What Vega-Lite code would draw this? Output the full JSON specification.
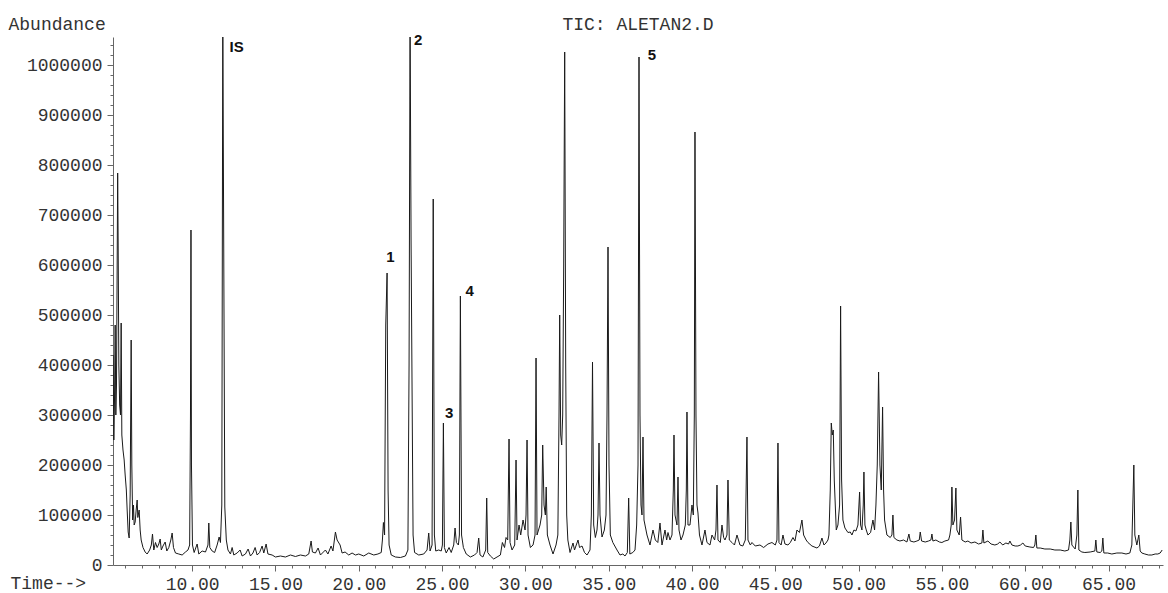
{
  "$schema": "https://vega.github.io/schema/vega-lite/v6.json",
  "width": 1050,
  "height": 528,
  "autosize": {"type": "none"},
  "padding": {"left": 113, "top": 37, "right": 5, "bottom": 28},
  "background": "white",
  "config": {"view": {"stroke": null}, "font": "Liberation Mono"},
  "title": {"text": "TIC: ALETAN2.D", "anchor": "middle", "baseline": "alphabetic", "offset": 7, "dy": 40, "font": "Liberation Mono", "fontSize": 18, "fontWeight": "normal", "color": "#333"},
  "datasets": {
    "trace": [
      {"t":5.26,"a":420000},{"t":5.30,"a":250000},{"t":5.34,"a":330000},{"t":5.38,"a":480000},{"t":5.42,"a":300000},{"t":5.46,"a":360000},{"t":5.50,"a":600000},{"t":5.53,"a":784000},{"t":5.56,"a":640000},{"t":5.60,"a":400000},{"t":5.65,"a":320000},{"t":5.70,"a":300000},{"t":5.74,"a":484000},{"t":5.78,"a":260000},{"t":5.85,"a":230000},{"t":5.92,"a":210000},{"t":5.98,"a":180000},{"t":6.05,"a":150000},{"t":6.10,"a":110000},{"t":6.16,"a":66000},{"t":6.22,"a":54000},{"t":6.28,"a":140000},{"t":6.34,"a":450000},{"t":6.38,"a":200000},{"t":6.43,"a":90000},{"t":6.48,"a":120000},{"t":6.52,"a":80000},{"t":6.58,"a":86000},{"t":6.64,"a":110000},{"t":6.70,"a":130000},{"t":6.74,"a":95000},{"t":6.82,"a":110000},{"t":6.88,"a":70000},{"t":6.94,"a":50000},{"t":7.05,"a":35000},{"t":7.18,"a":26000},{"t":7.30,"a":22000},{"t":7.45,"a":30000},{"t":7.55,"a":40000},{"t":7.62,"a":62000},{"t":7.70,"a":30000},{"t":7.80,"a":45000},{"t":7.90,"a":35000},{"t":8.00,"a":42000},{"t":8.08,"a":52000},{"t":8.15,"a":30000},{"t":8.25,"a":38000},{"t":8.38,"a":46000},{"t":8.48,"a":28000},{"t":8.60,"a":35000},{"t":8.72,"a":50000},{"t":8.80,"a":64000},{"t":8.88,"a":35000},{"t":9.00,"a":24000},{"t":9.20,"a":22000},{"t":9.40,"a":20000},{"t":9.60,"a":26000},{"t":9.75,"a":30000},{"t":9.85,"a":40000},{"t":9.90,"a":300000},{"t":9.93,"a":670000},{"t":9.96,"a":200000},{"t":10.02,"a":40000},{"t":10.12,"a":25000},{"t":10.30,"a":42000},{"t":10.40,"a":22000},{"t":10.60,"a":28000},{"t":10.80,"a":26000},{"t":10.95,"a":40000},{"t":11.00,"a":84000},{"t":11.06,"a":35000},{"t":11.20,"a":28000},{"t":11.35,"a":25000},{"t":11.50,"a":40000},{"t":11.62,"a":56000},{"t":11.70,"a":45000},{"t":11.78,"a":120000},{"t":11.84,"a":1100000},{"t":11.90,"a":600000},{"t":11.96,"a":116000},{"t":12.05,"a":50000},{"t":12.15,"a":30000},{"t":12.30,"a":22000},{"t":12.40,"a":35000},{"t":12.50,"a":20000},{"t":12.70,"a":24000},{"t":12.88,"a":30000},{"t":13.00,"a":18000},{"t":13.20,"a":22000},{"t":13.36,"a":32000},{"t":13.50,"a":18000},{"t":13.65,"a":24000},{"t":13.78,"a":35000},{"t":13.90,"a":20000},{"t":14.05,"a":25000},{"t":14.20,"a":38000},{"t":14.30,"a":24000},{"t":14.44,"a":42000},{"t":14.55,"a":22000},{"t":14.80,"a":20000},{"t":15.00,"a":16000},{"t":15.30,"a":18000},{"t":15.60,"a":16000},{"t":15.90,"a":20000},{"t":16.20,"a":17000},{"t":16.50,"a":20000},{"t":16.80,"a":18000},{"t":17.00,"a":22000},{"t":17.14,"a":48000},{"t":17.22,"a":26000},{"t":17.40,"a":24000},{"t":17.56,"a":34000},{"t":17.70,"a":20000},{"t":18.00,"a":30000},{"t":18.15,"a":22000},{"t":18.34,"a":38000},{"t":18.45,"a":28000},{"t":18.60,"a":66000},{"t":18.70,"a":50000},{"t":18.88,"a":40000},{"t":19.00,"a":24000},{"t":19.18,"a":26000},{"t":19.40,"a":20000},{"t":19.60,"a":24000},{"t":19.80,"a":20000},{"t":20.00,"a":22000},{"t":20.30,"a":18000},{"t":20.60,"a":24000},{"t":20.90,"a":20000},{"t":21.15,"a":22000},{"t":21.35,"a":25000},{"t":21.42,"a":50000},{"t":21.48,"a":85000},{"t":21.55,"a":60000},{"t":21.62,"a":480000},{"t":21.70,"a":584000},{"t":21.76,"a":150000},{"t":21.82,"a":40000},{"t":21.95,"a":20000},{"t":22.20,"a":16000},{"t":22.50,"a":15000},{"t":22.80,"a":18000},{"t":22.95,"a":30000},{"t":23.02,"a":400000},{"t":23.08,"a":1100000},{"t":23.14,"a":650000},{"t":23.20,"a":350000},{"t":23.26,"a":60000},{"t":23.35,"a":25000},{"t":23.60,"a":20000},{"t":23.90,"a":22000},{"t":24.10,"a":30000},{"t":24.20,"a":64000},{"t":24.28,"a":28000},{"t":24.40,"a":40000},{"t":24.47,"a":732000},{"t":24.54,"a":60000},{"t":24.62,"a":28000},{"t":24.80,"a":30000},{"t":24.95,"a":28000},{"t":25.02,"a":40000},{"t":25.08,"a":284000},{"t":25.14,"a":35000},{"t":25.25,"a":24000},{"t":25.42,"a":35000},{"t":25.55,"a":25000},{"t":25.70,"a":40000},{"t":25.78,"a":74000},{"t":25.86,"a":45000},{"t":25.98,"a":40000},{"t":26.04,"a":60000},{"t":26.10,"a":538000},{"t":26.17,"a":60000},{"t":26.28,"a":35000},{"t":26.45,"a":22000},{"t":26.70,"a":16000},{"t":26.95,"a":20000},{"t":27.10,"a":25000},{"t":27.20,"a":54000},{"t":27.28,"a":20000},{"t":27.45,"a":16000},{"t":27.62,"a":30000},{"t":27.68,"a":134000},{"t":27.74,"a":25000},{"t":27.90,"a":18000},{"t":28.10,"a":12000},{"t":28.30,"a":16000},{"t":28.50,"a":20000},{"t":28.62,"a":45000},{"t":28.75,"a":35000},{"t":28.84,"a":55000},{"t":28.94,"a":50000},{"t":29.02,"a":252000},{"t":29.08,"a":45000},{"t":29.20,"a":30000},{"t":29.36,"a":40000},{"t":29.44,"a":210000},{"t":29.50,"a":50000},{"t":29.62,"a":80000},{"t":29.72,"a":60000},{"t":29.86,"a":90000},{"t":29.98,"a":70000},{"t":30.04,"a":100000},{"t":30.10,"a":250000},{"t":30.16,"a":60000},{"t":30.30,"a":35000},{"t":30.46,"a":40000},{"t":30.58,"a":60000},{"t":30.64,"a":414000},{"t":30.70,"a":60000},{"t":30.88,"a":80000},{"t":30.98,"a":100000},{"t":31.04,"a":240000},{"t":31.12,"a":120000},{"t":31.20,"a":100000},{"t":31.25,"a":156000},{"t":31.32,"a":60000},{"t":31.48,"a":40000},{"t":31.66,"a":22000},{"t":31.84,"a":40000},{"t":31.95,"a":60000},{"t":32.02,"a":300000},{"t":32.06,"a":500000},{"t":32.12,"a":260000},{"t":32.18,"a":240000},{"t":32.24,"a":300000},{"t":32.30,"a":600000},{"t":32.36,"a":1026000},{"t":32.42,"a":400000},{"t":32.48,"a":100000},{"t":32.55,"a":50000},{"t":32.68,"a":25000},{"t":32.86,"a":44000},{"t":32.95,"a":30000},{"t":33.16,"a":50000},{"t":33.25,"a":35000},{"t":33.40,"a":38000},{"t":33.55,"a":25000},{"t":33.70,"a":20000},{"t":33.88,"a":30000},{"t":33.96,"a":100000},{"t":34.03,"a":406000},{"t":34.10,"a":80000},{"t":34.20,"a":55000},{"t":34.30,"a":70000},{"t":34.36,"a":100000},{"t":34.42,"a":244000},{"t":34.48,"a":100000},{"t":34.60,"a":56000},{"t":34.74,"a":70000},{"t":34.84,"a":100000},{"t":34.90,"a":300000},{"t":34.96,"a":636000},{"t":35.02,"a":200000},{"t":35.10,"a":60000},{"t":35.25,"a":45000},{"t":35.50,"a":30000},{"t":35.68,"a":20000},{"t":35.85,"a":22000},{"t":35.98,"a":18000},{"t":36.12,"a":25000},{"t":36.20,"a":134000},{"t":36.27,"a":22000},{"t":36.45,"a":25000},{"t":36.58,"a":30000},{"t":36.68,"a":80000},{"t":36.76,"a":200000},{"t":36.82,"a":1016000},{"t":36.88,"a":300000},{"t":36.94,"a":120000},{"t":37.00,"a":100000},{"t":37.06,"a":256000},{"t":37.12,"a":90000},{"t":37.30,"a":60000},{"t":37.48,"a":40000},{"t":37.66,"a":70000},{"t":37.80,"a":50000},{"t":37.95,"a":45000},{"t":38.08,"a":84000},{"t":38.20,"a":40000},{"t":38.38,"a":70000},{"t":38.48,"a":50000},{"t":38.56,"a":65000},{"t":38.68,"a":50000},{"t":38.80,"a":60000},{"t":38.88,"a":150000},{"t":38.92,"a":260000},{"t":38.98,"a":100000},{"t":39.10,"a":80000},{"t":39.16,"a":176000},{"t":39.22,"a":70000},{"t":39.34,"a":50000},{"t":39.46,"a":60000},{"t":39.60,"a":80000},{"t":39.66,"a":150000},{"t":39.70,"a":306000},{"t":39.76,"a":80000},{"t":39.88,"a":80000},{"t":40.00,"a":120000},{"t":40.08,"a":100000},{"t":40.14,"a":300000},{"t":40.18,"a":866000},{"t":40.24,"a":300000},{"t":40.30,"a":120000},{"t":40.36,"a":104000},{"t":40.45,"a":60000},{"t":40.60,"a":40000},{"t":40.78,"a":70000},{"t":40.90,"a":45000},{"t":41.08,"a":40000},{"t":41.20,"a":60000},{"t":41.36,"a":50000},{"t":41.44,"a":70000},{"t":41.50,"a":160000},{"t":41.56,"a":50000},{"t":41.70,"a":45000},{"t":41.80,"a":80000},{"t":41.90,"a":55000},{"t":41.98,"a":50000},{"t":42.10,"a":60000},{"t":42.16,"a":170000},{"t":42.24,"a":50000},{"t":42.40,"a":45000},{"t":42.55,"a":40000},{"t":42.70,"a":60000},{"t":42.88,"a":40000},{"t":43.05,"a":38000},{"t":43.20,"a":50000},{"t":43.30,"a":256000},{"t":43.36,"a":50000},{"t":43.50,"a":40000},{"t":43.60,"a":45000},{"t":43.80,"a":38000},{"t":44.08,"a":40000},{"t":44.30,"a":35000},{"t":44.56,"a":42000},{"t":44.80,"a":45000},{"t":45.00,"a":40000},{"t":45.10,"a":50000},{"t":45.16,"a":244000},{"t":45.22,"a":45000},{"t":45.35,"a":40000},{"t":45.46,"a":60000},{"t":45.58,"a":42000},{"t":45.76,"a":40000},{"t":45.90,"a":45000},{"t":46.06,"a":55000},{"t":46.18,"a":48000},{"t":46.30,"a":70000},{"t":46.45,"a":65000},{"t":46.60,"a":90000},{"t":46.70,"a":60000},{"t":46.85,"a":50000},{"t":46.96,"a":45000},{"t":47.20,"a":38000},{"t":47.50,"a":34000},{"t":47.65,"a":38000},{"t":47.80,"a":54000},{"t":47.92,"a":40000},{"t":48.04,"a":44000},{"t":48.16,"a":50000},{"t":48.22,"a":60000},{"t":48.30,"a":150000},{"t":48.36,"a":284000},{"t":48.42,"a":260000},{"t":48.48,"a":270000},{"t":48.54,"a":170000},{"t":48.60,"a":120000},{"t":48.66,"a":70000},{"t":48.76,"a":80000},{"t":48.86,"a":120000},{"t":48.92,"a":518000},{"t":48.98,"a":170000},{"t":49.06,"a":90000},{"t":49.18,"a":74000},{"t":49.36,"a":65000},{"t":49.50,"a":66000},{"t":49.60,"a":60000},{"t":49.72,"a":70000},{"t":49.84,"a":68000},{"t":49.96,"a":80000},{"t":50.06,"a":146000},{"t":50.12,"a":80000},{"t":50.20,"a":70000},{"t":50.28,"a":120000},{"t":50.32,"a":186000},{"t":50.38,"a":80000},{"t":50.46,"a":70000},{"t":50.56,"a":60000},{"t":50.72,"a":65000},{"t":50.86,"a":90000},{"t":50.96,"a":70000},{"t":51.04,"a":120000},{"t":51.12,"a":200000},{"t":51.20,"a":386000},{"t":51.28,"a":200000},{"t":51.36,"a":150000},{"t":51.44,"a":316000},{"t":51.50,"a":150000},{"t":51.56,"a":90000},{"t":51.70,"a":60000},{"t":51.90,"a":55000},{"t":52.00,"a":60000},{"t":52.06,"a":100000},{"t":52.12,"a":55000},{"t":52.30,"a":50000},{"t":52.48,"a":48000},{"t":52.70,"a":50000},{"t":52.90,"a":46000},{"t":53.02,"a":62000},{"t":53.10,"a":48000},{"t":53.32,"a":46000},{"t":53.50,"a":48000},{"t":53.64,"a":50000},{"t":53.70,"a":66000},{"t":53.78,"a":48000},{"t":54.00,"a":46000},{"t":54.20,"a":48000},{"t":54.34,"a":50000},{"t":54.40,"a":62000},{"t":54.46,"a":48000},{"t":54.64,"a":50000},{"t":54.85,"a":46000},{"t":55.00,"a":45000},{"t":55.18,"a":48000},{"t":55.40,"a":50000},{"t":55.48,"a":60000},{"t":55.56,"a":80000},{"t":55.60,"a":156000},{"t":55.66,"a":80000},{"t":55.76,"a":90000},{"t":55.84,"a":154000},{"t":55.90,"a":70000},{"t":56.04,"a":60000},{"t":56.12,"a":96000},{"t":56.20,"a":50000},{"t":56.40,"a":46000},{"t":56.56,"a":48000},{"t":56.75,"a":44000},{"t":56.98,"a":46000},{"t":57.20,"a":42000},{"t":57.40,"a":44000},{"t":57.46,"a":70000},{"t":57.52,"a":44000},{"t":57.76,"a":48000},{"t":57.95,"a":42000},{"t":58.18,"a":40000},{"t":58.35,"a":42000},{"t":58.48,"a":46000},{"t":58.65,"a":40000},{"t":58.84,"a":44000},{"t":59.00,"a":42000},{"t":59.08,"a":48000},{"t":59.20,"a":40000},{"t":59.40,"a":38000},{"t":59.56,"a":38000},{"t":59.72,"a":40000},{"t":59.86,"a":44000},{"t":60.00,"a":38000},{"t":60.28,"a":36000},{"t":60.50,"a":35000},{"t":60.58,"a":40000},{"t":60.64,"a":60000},{"t":60.70,"a":34000},{"t":60.90,"a":34000},{"t":61.18,"a":32000},{"t":61.50,"a":32000},{"t":61.78,"a":30000},{"t":62.10,"a":30000},{"t":62.38,"a":28000},{"t":62.60,"a":30000},{"t":62.68,"a":50000},{"t":62.74,"a":86000},{"t":62.80,"a":40000},{"t":63.00,"a":32000},{"t":63.10,"a":60000},{"t":63.16,"a":150000},{"t":63.22,"a":30000},{"t":63.40,"a":26000},{"t":63.58,"a":25000},{"t":63.90,"a":26000},{"t":64.18,"a":28000},{"t":64.24,"a":50000},{"t":64.30,"a":26000},{"t":64.50,"a":25000},{"t":64.60,"a":28000},{"t":64.66,"a":54000},{"t":64.72,"a":24000},{"t":64.95,"a":24000},{"t":65.20,"a":22000},{"t":65.50,"a":24000},{"t":65.80,"a":24000},{"t":66.05,"a":22000},{"t":66.28,"a":24000},{"t":66.40,"a":40000},{"t":66.46,"a":120000},{"t":66.52,"a":200000},{"t":66.58,"a":60000},{"t":66.70,"a":40000},{"t":66.82,"a":60000},{"t":66.90,"a":28000},{"t":67.00,"a":24000},{"t":67.18,"a":22000},{"t":67.40,"a":20000},{"t":67.60,"a":20000},{"t":67.80,"a":22000},{"t":67.96,"a":22000},{"t":68.10,"a":24000},{"t":68.22,"a":30000}
    ],
    "peaks": [
      {"t":12.67,"a":1036000,"label":"IS"},
      {"t":21.90,"a":616000,"label":"1"},
      {"t":23.56,"a":1050000,"label":"2"},
      {"t":25.42,"a":304000,"label":"3"},
      {"t":26.65,"a":548000,"label":"4"},
      {"t":37.60,"a":1020000,"label":"5"}
    ]
  },
  "encoding": {
    "x": {
      "field": "t", "type": "quantitative",
      "scale": {"domain": [5.25, 68.27], "nice": false, "zero": false},
      "axis": {
        "values": [6,7,8,9,10,11,12,13,14,15,16,17,18,19,20,21,22,23,24,25,26,27,28,29,30,31,32,33,34,35,36,37,38,39,40,41,42,43,44,45,46,47,48,49,50,51,52,53,54,55,56,57,58,59,60,61,62,63,64,65,66,67,68],
        "labelExpr": "(datum.value % 5 === 0 && datum.value >= 10) ? format(datum.value, '.2f') : ''",
        "tickSize": {"condition": {"test": "datum.value % 5 === 0", "value": 6}, "value": 3},
        "grid": false,
        "labelOverlap": false, "labelFlush": false, "labelBound": false,
        "labelFont": "Liberation Mono", "labelFontSize": 18, "labelColor": "#333", "labelPadding": 4,
        "domainColor": "#666", "tickColor": "#666", "domainWidth": 1, "tickWidth": 1,
        "title": "Time-->", "titleFont": "Liberation Mono", "titleFontSize": 18, "titleFontWeight": "normal", "titleColor": "#333",
        "titleAlign": "left", "titleBaseline": "middle", "titleAnchor": null, "titleX": -103, "titleY": 18
      }
    },
    "y": {
      "field": "a", "type": "quantitative",
      "scale": {"domain": [0, 1056000], "nice": false},
      "axis": {
        "values": [0,20000,40000,60000,80000,100000,120000,140000,160000,180000,200000,220000,240000,260000,280000,300000,320000,340000,360000,380000,400000,420000,440000,460000,480000,500000,520000,540000,560000,580000,600000,620000,640000,660000,680000,700000,720000,740000,760000,780000,800000,820000,840000,860000,880000,900000,920000,940000,960000,980000,1000000,1020000,1040000],
        "format": "d",
        "labelExpr": "datum.value % 100000 === 0 ? datum.label : ''",
        "tickSize": {"condition": {"test": "datum.value % 100000 === 0", "value": 6}, "value": 3},
        "grid": false,
        "labelOverlap": false, "labelFlush": false, "labelBound": false,
        "labelFont": "Liberation Mono", "labelFontSize": 18, "labelColor": "#333", "labelPadding": 5,
        "domainColor": "#666", "tickColor": "#666", "domainWidth": 1, "tickWidth": 1,
        "title": "Abundance", "titleFont": "Liberation Mono", "titleFontSize": 18, "titleFontWeight": "normal", "titleColor": "#333",
        "titleAngle": 0, "titleAlign": "left", "titleBaseline": "middle", "titleAnchor": null, "titleX": -105, "titleY": -13
      }
    }
  },
  "layer": [
    {"data": {"name": "trace"}, "mark": {"type": "line", "clip": true, "color": "#1a1a1a", "strokeWidth": 1}},
    {"data": {"name": "peaks"}, "mark": {"type": "text", "font": "Liberation Sans", "fontWeight": "bold", "fontSize": 15, "align": "center", "baseline": "middle", "color": "#111"}, "encoding": {"text": {"field": "label"}}}
  ]
}
